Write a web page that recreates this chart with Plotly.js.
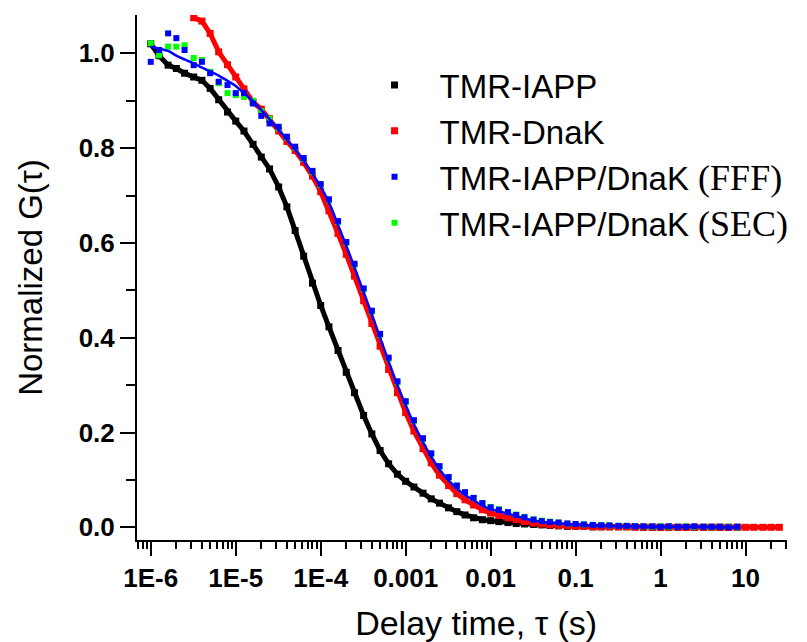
<!DOCTYPE html>
<html>
<head>
<meta charset="utf-8">
<script src="https://cdn.plot.ly/plotly-3.0.1.min.js"></script>
<style>html,body{margin:0;padding:0;background:#fff;}#chart{width:807px;height:642px;}</style>
</head>
<body>
<div id="chart"></div>
<script>
// Delay times (s)
const tauMain = [
  1e-6,1.25e-6,1.6e-6,2e-6,2.5e-6,3.2e-6,4e-6,5e-6,6.3e-6,8e-6,
  1e-5,1.25e-5,1.6e-5,2e-5,2.5e-5,3.2e-5,4e-5,5e-5,6.3e-5,8e-5,
  1e-4,1.25e-4,1.6e-4,2e-4,2.5e-4,3.2e-4,4e-4,5e-4,6.3e-4,8e-4,
  1e-3,1.25e-3,1.6e-3,2e-3,2.5e-3,3.2e-3,4e-3,5e-3,6.3e-3,8e-3,
  1e-2,1.25e-2,1.6e-2,2e-2,2.5e-2,3.2e-2,4e-2,5e-2,6.3e-2,8e-2,
  0.1
];
const tauTail = [0.125,0.16,0.2,0.25,0.32,0.4,0.5,0.63,0.8,1,1.25,1.6,2,2.5,3.2,4,5,6.3,8];
const tauRedTail = [10,12.5,16,20,25];

// Normalized G(tau)
const gIAPP = [
  1.020,0.995,0.975,0.968,0.958,0.950,0.943,0.926,0.902,0.876,
  0.857,0.836,0.808,0.781,0.756,0.718,0.676,0.626,0.572,0.515,
  0.468,0.423,0.373,0.327,0.284,0.236,0.197,0.162,0.134,0.112,
  0.097,0.085,0.072,0.060,0.051,0.041,0.033,0.026,0.020,0.016,
  0.014,0.012,0.010,0.008,0.007,0.006,0.005,0.004,0.003,0.002,
  0.002,
  0.002,0.001,0.001,0.001,0.001,0.001,0.001,0.000,0.000,0.000,0.000,0.000,0.000,0.000,0.000,0.000,0.000,0.000,0.000
];
const gDnaK = [
  null,null,null,null,null,1.075,1.068,1.042,1.003,0.976,
  0.950,0.925,0.897,0.882,0.862,0.836,0.814,0.795,0.770,0.741,
  0.708,0.668,0.620,0.576,0.530,0.478,0.430,0.382,0.333,0.284,
  0.242,0.203,0.166,0.136,0.110,0.088,0.071,0.058,0.047,0.037,
  0.030,0.025,0.020,0.016,0.012,0.009,0.007,0.005,0.004,0.003,
  0.002,
  0.002,0.001,0.001,0.001,0.001,0.001,0.000,0.000,0.000,0.000,0.000,0.000,0.000,0.000,0.000,0.000,0.000,0.000,0.000,
  0.000,0.000,0.000,0.000,0.000
];
const gFFF = [
  0.982,1.007,1.042,1.032,1.007,0.975,0.982,0.958,0.940,0.933,
  0.916,0.916,0.894,0.868,0.852,0.845,0.824,0.803,0.779,0.752,
  0.724,0.692,0.646,0.602,0.556,0.504,0.457,0.408,0.358,0.308,
  0.266,0.226,0.188,0.156,0.129,0.106,0.088,0.074,0.062,0.051,
  0.042,0.037,0.032,0.026,0.021,0.016,0.013,0.011,0.010,0.008,
  0.007,
  0.006,0.005,0.004,0.004,0.003,0.003,0.002,0.002,0.002,0.001,0.002,0.001,0.001,0.002,0.001,0.001,0.001,0.000,0.001
];
const gSEC = [
  1.021,0.996,1.014,1.014,1.017,0.990,0.986,0.961,0.937,0.916,
  0.912,0.908,0.900,0.878,0.862,0.842,0.822,0.801,0.777,0.750,
  0.722,0.690,0.644,0.600,0.554,0.502,0.455,0.406,0.356,0.306,
  0.264,0.224,0.186,0.155,0.128,0.105,0.088,0.074,0.062,0.051,
  0.043,0.038,0.032,0.027,0.022,0.017,0.014,0.012,0.010,0.008,
  0.007,
  0.006,0.005,0.005,0.004,0.003,0.003,0.002,0.002,0.001,0.002,0.001,0.001,0.002,0.001,0.001,0.000,0.001,0.001,0.000
];
const gFit = [
  1.014,1.010,1.005,0.995,0.987,0.979,0.970,0.962,0.953,0.942,
  0.931,0.916,0.899,0.880,0.861,0.838,0.818,0.797,0.773,0.746,
  0.718,0.685,0.638,0.594,0.548,0.496,0.449,0.400,0.350,0.300,
  0.258,0.218,0.180,0.149,0.122,0.099,0.082,0.068,0.057,0.046,
  0.038,0.034,0.029,0.024,0.019,0.014,0.012,0.010,0.009,0.007,
  0.006,
  0.005,0.004,0.003,0.003,0.002,0.002,0.002,0.001,0.001,0.001,0.001,0.001,0.001,0.001,0.001,0.001,0.000,0.000,0.000
];

const SERIF = '<span style="font-family:Liberation Serif;font-size:36px">';
const seriesNames = [
  'TMR-IAPP',
  'TMR-DnaK',
  'TMR-IAPP/DnaK ' + SERIF + '(FFF)</span>',
  'TMR-IAPP/DnaK ' + SERIF + '(SEC)</span>'
];
const xTickVals = [1e-6,1e-5,1e-4,1e-3,1e-2,1e-1,1,10];
const xTickText = ['1E-6','1E-5','1E-4','0.001','0.01','0.1','1','10'];

const tauAll = tauMain.concat(tauTail);
const tauRed = tauAll.concat(tauRedTail);

const minorX = [];
for (let e = -7; e <= 1; e++) for (let k = 2; k <= 9; k++) minorX.push(k * Math.pow(10, e));

const FONT = 'Liberation Sans, Arial, sans-serif';
const BLACK = '#000000', RED = '#ff0000', BLUE = '#0000ff', GREEN = '#00ff00';

const traces = [
  {x: tauAll, y: gIAPP, mode: 'lines', line: {color: BLACK, width: 5}, showlegend: false, hoverinfo: 'skip'},
  {x: tauAll, y: gIAPP, mode: 'markers', name: seriesNames[0], legendrank: 1,
   marker: {symbol: 'square', size: 7, color: BLACK}},
  {x: tauRed, y: gDnaK, mode: 'lines', line: {color: RED, width: 5}, showlegend: false, hoverinfo: 'skip', connectgaps: false},
  {x: tauRed, y: gDnaK, mode: 'markers', name: seriesNames[1], legendrank: 2,
   marker: {symbol: 'square', size: 7, color: RED}},
  {x: tauAll, y: gSEC, mode: 'markers', name: seriesNames[3], legendrank: 4,
   marker: {symbol: 'square', size: 6, color: GREEN}},
  {x: tauAll, y: gFFF, mode: 'markers', name: seriesNames[2], legendrank: 3,
   marker: {symbol: 'square', size: 6, color: BLUE}},
  {x: tauAll, y: gFit, mode: 'lines', line: {color: BLUE, width: 2.5, shape: 'spline'}, showlegend: false, hoverinfo: 'skip'}
];

const layout = {
  width: 807, height: 642,
  margin: {l: 137, r: 20, t: 15, b: 102},
  paper_bgcolor: '#ffffff', plot_bgcolor: '#ffffff',
  font: {family: FONT, color: '#000'},
  showlegend: true,
  legend: {
    x: 0.327, y: 0.92, xanchor: 'left', yanchor: 'top',
    bgcolor: 'rgba(255,255,255,0)', borderwidth: 0,
    font: {family: FONT, size: 33, color: '#000'},
    itemwidth: 80, traceorder: 'normal'
  },
  xaxis: {
    type: 'log', range: [-6.162, 1.488],
    tickmode: 'array', tickvals: xTickVals, ticktext: xTickText,
    ticks: 'outside', ticklen: 14, tickwidth: 2, tickcolor: '#000',
    showline: true, linecolor: '#000', linewidth: 2, mirror: false,
    showgrid: false, zeroline: false,
    tickfont: {family: FONT, size: 26, weight: 700, color: '#000'},
    minor: {tickmode: 'array', tickvals: minorX, ticks: 'outside', ticklen: 7, tickwidth: 2, tickcolor: '#000', showgrid: false},
    title: {text: '&nbsp;&nbsp;&nbsp;Delay time, τ (s)', font: {family: FONT, size: 34, color: '#000'}, standoff: 23}
  },
  yaxis: {
    range: [-0.0268, 1.0808],
    tick0: 0, dtick: 0.2, tickformat: '.1f',
    ticks: 'outside', ticklen: 15, tickwidth: 2, tickcolor: '#000',
    showline: true, linecolor: '#000', linewidth: 2, mirror: false,
    showgrid: false, zeroline: false,
    tickfont: {family: FONT, size: 26, weight: 700, color: '#000'},
    minor: {dtick: 0.1, ticks: 'outside', ticklen: 9, tickwidth: 2, tickcolor: '#000', showgrid: false},
    title: {text: 'Normalized G(τ)', font: {family: FONT, size: 33, color: '#000'}, standoff: 26}
  }
};

Plotly.newPlot('chart', traces, layout, {displayModeBar: false, staticPlot: true});
</script>
</body>
</html>
